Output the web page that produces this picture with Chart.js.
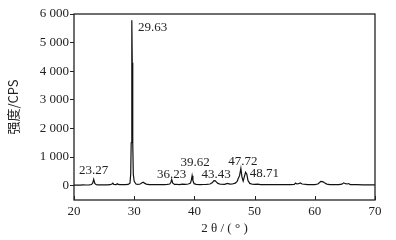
<!DOCTYPE html>
<html>
<head>
<meta charset="utf-8">
<script src="https://cdn.jsdelivr.net/npm/chart.js@4/dist/chart.umd.min.js"></script>
<style>
  html, body { margin: 0; padding: 0; background: #fff; }
  #wrap { width: 396px; height: 240px; position: relative; }
</style>
</head>
<body>
<div id="wrap"><canvas id="xrdChart"></canvas></div>
<script>
// XRD pattern, 2θ (°) vs intensity (CPS)
const twoTheta = [20, 20.5, 21, 21.5, 22, 22.5, 22.9, 23.1, 23.27, 23.45, 23.7, 24, 24.5, 25, 25.5, 26, 26.3, 26.45, 26.6, 27, 27.2, 27.35, 27.6, 28, 28.5, 29, 29.3, 29.42, 29.5, 29.58, 29.63, 29.68, 29.76, 29.85, 30.0, 30.3, 30.6, 31, 31.3, 31.5, 31.7, 32, 32.5, 33, 33.5, 34, 34.5, 35, 35.5, 35.9, 36.1, 36.23, 36.4, 36.7, 37, 37.5, 38, 38.5, 39, 39.35, 39.5, 39.62, 39.75, 39.95, 40.3, 41, 41.5, 42, 42.6, 43, 43.2, 43.43, 43.6, 43.9, 44.3, 45, 45.5, 45.9, 46.3, 46.8, 47.1, 47.3, 47.5, 47.72, 47.9, 48.1, 48.3, 48.5, 48.71, 48.9, 49.2, 49.6, 50, 50.5, 51, 52, 53, 54, 55, 56, 56.6, 56.8, 57.0, 57.3, 57.6, 57.9, 58.2, 58.5, 58.8, 59.5, 60, 60.5, 60.8, 61.0, 61.3, 61.6, 62, 62.5, 63, 64, 64.5, 64.8, 65.1, 65.4, 65.6, 65.9, 66.5, 67, 68, 69, 70];
const intensity = [20, 25, 22, 28, 24, 30, 40, 90, 220, 80, 35, 30, 28, 32, 30, 35, 60, 90, 45, 40, 70, 45, 35, 40, 38, 45, 90, 400, 1500, 4500, 5780, 4300, 1500, 400, 150, 60, 45, 60, 100, 120, 90, 55, 40, 38, 35, 40, 38, 40, 45, 60, 120, 220, 90, 45, 50, 40, 55, 45, 60, 90, 200, 350, 180, 70, 45, 40, 42, 45, 60, 110, 170, 180, 140, 80, 50, 45, 80, 55, 60, 90, 150, 260, 350, 600, 300, 160, 320, 470, 400, 180, 80, 50, 45, 55, 40, 38, 36, 35, 38, 40, 45, 90, 60, 70, 95, 60, 50, 45, 35, 35, 40, 60, 110, 150, 140, 100, 55, 40, 38, 40, 55, 100, 70, 60, 75, 40, 35, 35, 30, 32, 30];

// Peak labels
const peakLabels = ['23.27', '29.63', '36.23', '39.62', '43.43', '47.72', '48.71'];
const peakX = [23.27, 29.63, 36.23, 39.62, 43.43, 47.72, 48.71];
const peakY = [220, 5780, 220, 350, 180, 600, 470];

const xTicks = [20, 30, 40, 50, 60, 70];
const yTicks = [0, 1000, 2000, 3000, 4000, 5000, 6000];

const serif = '"Liberation Serif", "DejaVu Serif", serif';

function fmtThousands(v) {
    return String(v).replace(/\B(?=(\d{3})+(?!\d))/g, ' ');
}

// Frame, inward x ticks, peak labels and axis titles
const decorPlugin = {
    id: 'decor',
    afterDraw(chart) {
        const ctx = chart.ctx;
        const a = chart.chartArea;
        const xs = chart.scales.x;
        const ys = chart.scales.y;
        ctx.save();

        ctx.strokeStyle = '#222';
        ctx.lineWidth = 1.3;
        ctx.strokeRect(a.left, a.top, a.right - a.left, a.bottom - a.top);

        // inward ticks on the bottom axis
        ctx.lineWidth = 1;
        xTicks.forEach(v => {
            const px = Math.round(xs.getPixelForValue(v)) + 0.5;
            ctx.beginPath();
            ctx.moveTo(px, a.bottom);
            ctx.lineTo(px, a.bottom - 4);
            ctx.stroke();
        });

        // peak labels
        ctx.fillStyle = '#222';
        ctx.font = '13px ' + serif;
        ctx.textBaseline = 'alphabetic';
        const offsets = {
            '23.27': [0, -5, 'center'],
            '29.63': [6, 11, 'left'],
            '36.23': [0, -1, 'center'],
            '39.62': [3, -10, 'center'],
            '43.43': [1, -3, 'center'],
            '47.72': [2, -4, 'center'],
            '48.71': [3, 5, 'left']
        };
        peakLabels.forEach((t, i) => {
            const o = offsets[t];
            ctx.textAlign = o[2];
            ctx.fillText(t, xs.getPixelForValue(peakX[i]) + o[0], ys.getPixelForValue(peakY[i]) + o[1]);
        });

        // x axis title
        ctx.textAlign = 'center';
        ctx.font = '13px ' + serif;
        ctx.fillText('2 θ / ( ° )', (a.left + a.right) / 2, 232);

        // y axis title
        ctx.translate(13, (a.top + a.bottom) / 2);
        ctx.rotate(-Math.PI / 2);
        ctx.textBaseline = 'middle';
        ctx.font = '13px "Noto Sans CJK SC", ' + serif;
        ctx.fillText('强度/CPS', 0, 0);
        ctx.restore();
    }
};

const ctx = document.getElementById('xrdChart').getContext('2d');
new Chart(ctx, {
    type: 'line',
    data: {
        datasets: [{
            data: twoTheta.map((x, i) => ({ x: x, y: intensity[i] })),
            borderColor: '#111',
            borderWidth: 1.2,
            pointRadius: 0,
            tension: 0,
            fill: false
        }]
    },
    options: {
        responsive: true,
        maintainAspectRatio: false,
        animation: false,
        layout: { padding: { top: 14, right: 21, left: 0, bottom: 0 } },
        plugins: {
            legend: { display: false },
            tooltip: { enabled: false }
        },
        scales: {
            x: {
                type: 'linear',
                min: 20,
                max: 70,
                afterBuildTicks: s => { s.ticks = xTicks.map(v => ({ value: v })); },
                afterFit: s => { s.height = 40; },
                border: { display: false },
                grid: { display: false, drawTicks: false },
                ticks: {
                    padding: 4,
                    color: '#222',
                    font: { family: serif, size: 13 },
                    maxRotation: 0
                }
            },
            y: {
                type: 'linear',
                min: -500,
                max: 6000,
                afterBuildTicks: s => { s.ticks = yTicks.map(v => ({ value: v })); },
                afterFit: s => { s.width = 74; },
                border: { display: false },
                grid: { drawOnChartArea: false, drawTicks: true, tickLength: 4, color: '#222' },
                ticks: {
                    padding: 1,
                    color: '#222',
                    font: { family: serif, size: 13 },
                    callback: v => fmtThousands(v)
                }
            }
        }
    },
    plugins: [decorPlugin]
});
</script>
</body>
</html>
